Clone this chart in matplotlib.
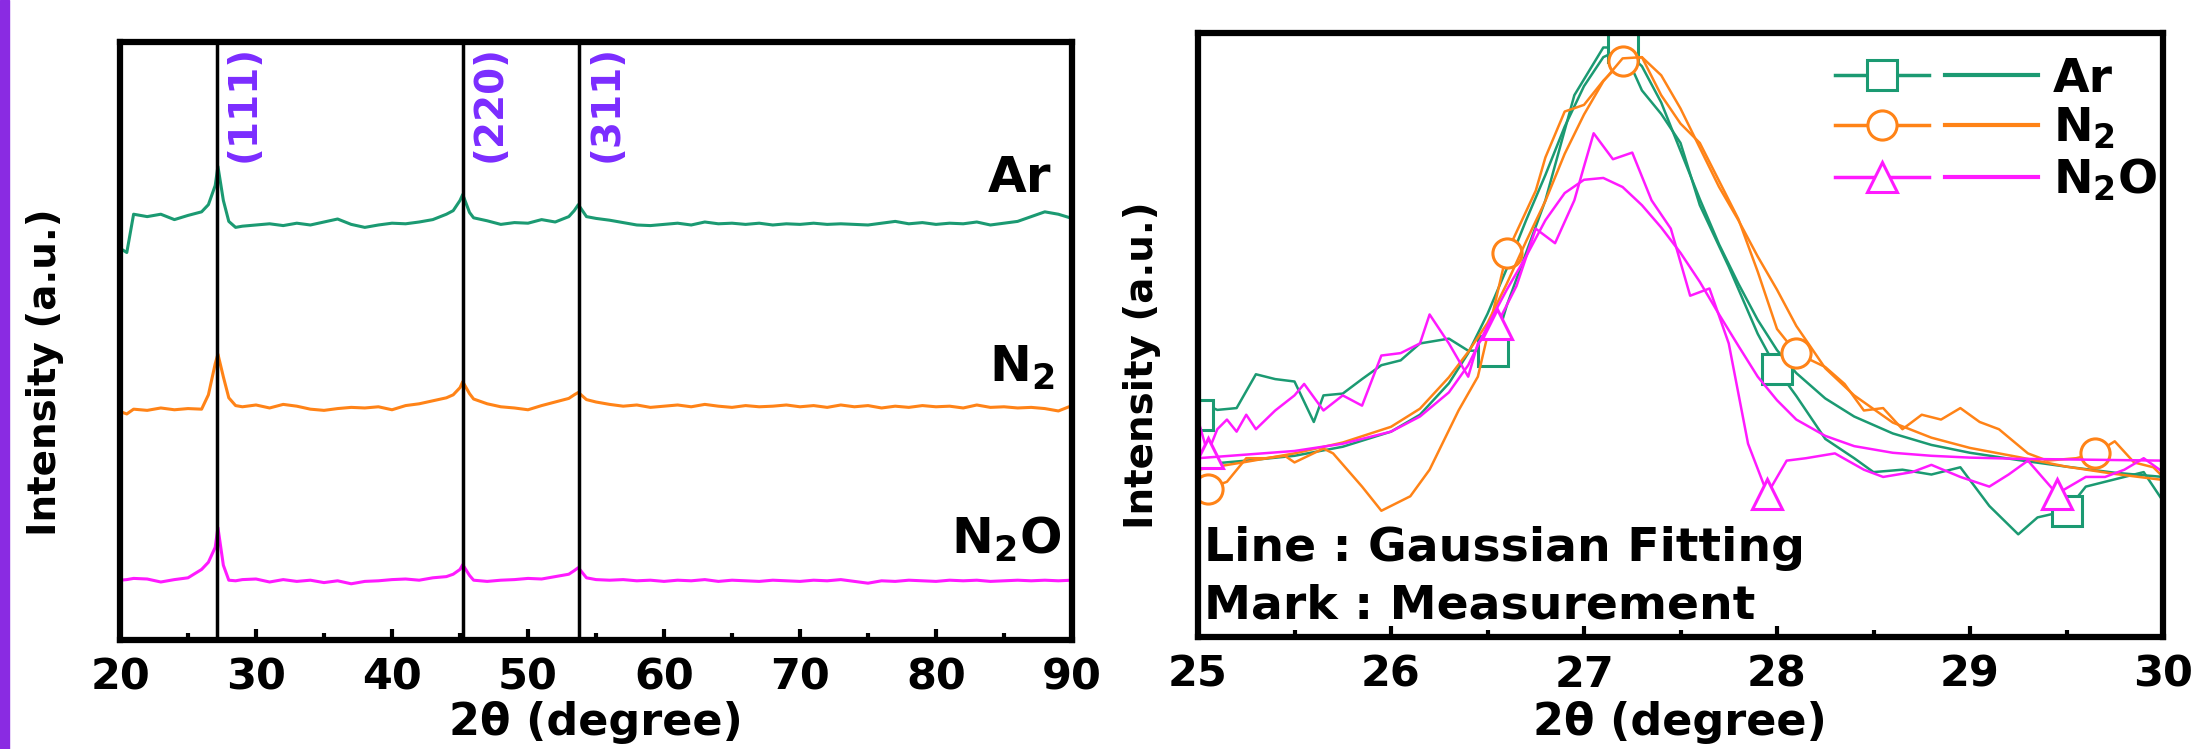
import numpy as np
import matplotlib
matplotlib.use('Agg')
from matplotlib import pyplot as plt
from matplotlib.lines import Line2D
from matplotlib.legend_handler import HandlerTuple
from matplotlib.patches import Rectangle

# ---- left panel: wide XRD scans (normalised, offset) ----
two_theta = [20, 20.5, 21, 22, 23, 24, 25, 26, 26.5, 27, 27.2, 27.6, 28, 28.5, 29,
             30, 31, 32, 33, 34, 35, 36, 37, 38, 39, 40, 41, 42, 43, 44,
             44.5, 45, 45.2, 45.7, 46, 47, 48, 49, 50, 51, 52, 53, 53.4, 53.7, 54.3,
             55, 56, 57, 58, 59, 60, 61, 62, 63, 64, 65, 66, 67, 68, 69, 70, 71, 72,
             73, 74, 75, 76, 77, 78, 79, 80, 81, 82, 83, 84, 85, 86, 87, 88, 89, 90]
ar_wide = [0.655, 0.648, 0.712, 0.708, 0.712, 0.703, 0.710, 0.716, 0.728, 0.760,
           0.792, 0.735, 0.700, 0.690, 0.692, 0.694, 0.696, 0.693, 0.697, 0.694,
           0.699, 0.704, 0.695, 0.690, 0.694, 0.697, 0.696, 0.699, 0.703, 0.712,
           0.718, 0.735, 0.745, 0.715, 0.706, 0.701, 0.695, 0.698, 0.697, 0.703,
           0.699, 0.708, 0.718, 0.728, 0.708, 0.705, 0.702, 0.698, 0.694, 0.693,
           0.695, 0.697, 0.694, 0.699, 0.696, 0.697, 0.695, 0.697, 0.694, 0.696,
           0.695, 0.697, 0.695, 0.696, 0.695, 0.694, 0.697, 0.700, 0.696, 0.698,
           0.695, 0.697, 0.696, 0.699, 0.694, 0.697, 0.700, 0.708, 0.716, 0.712, 0.705]
n2_wide = [0.382, 0.378, 0.386, 0.384, 0.388, 0.385, 0.387, 0.386, 0.410, 0.462,
           0.478, 0.440, 0.405, 0.392, 0.390, 0.393, 0.388, 0.394, 0.391, 0.386,
           0.384, 0.387, 0.389, 0.388, 0.390, 0.385, 0.392, 0.395, 0.400, 0.405,
           0.410, 0.422, 0.432, 0.412, 0.403, 0.395, 0.390, 0.388, 0.385, 0.392,
           0.398, 0.404, 0.410, 0.414, 0.402, 0.398, 0.394, 0.391, 0.393, 0.389,
           0.391, 0.393, 0.390, 0.394, 0.391, 0.389, 0.392, 0.390, 0.391, 0.393,
           0.390, 0.392, 0.389, 0.393, 0.390, 0.392, 0.388, 0.391, 0.389, 0.392,
           0.390, 0.391, 0.388, 0.393, 0.389, 0.390, 0.388, 0.389, 0.387, 0.383, 0.392]
n2o_wide = [0.100, 0.101, 0.103, 0.102, 0.097, 0.101, 0.104, 0.118, 0.130, 0.155,
            0.188, 0.125, 0.100, 0.099, 0.101, 0.102, 0.097, 0.101, 0.098, 0.100,
            0.096, 0.099, 0.094, 0.098, 0.099, 0.101, 0.102, 0.100, 0.104, 0.106,
            0.110, 0.118, 0.126, 0.108, 0.100, 0.098, 0.100, 0.101, 0.103, 0.102,
            0.106, 0.110, 0.116, 0.121, 0.104, 0.101, 0.100, 0.101, 0.099, 0.100,
            0.098, 0.100, 0.099, 0.101, 0.098, 0.100, 0.099, 0.098, 0.100, 0.099,
            0.098, 0.100, 0.099, 0.101, 0.098, 0.095, 0.099, 0.098, 0.100, 0.099,
            0.098, 0.100, 0.099, 0.100, 0.098, 0.099, 0.100, 0.099, 0.100, 0.099, 0.100]
peak_pos = [27.1, 45.2, 53.75]
peak_names = ['(111)', '(220)', '(311)']

# ---- right panel: (111) peak, measurement + gaussian fit ----
ar_meas_x = [25.0, 25.05, 25.1, 25.2, 25.3, 25.4, 25.5, 25.6, 25.65, 25.75,
             25.85, 25.95, 26.05, 26.15, 26.3, 26.4, 26.53, 26.6, 26.8, 26.95,
             27.1, 27.2, 27.3, 27.4, 27.5, 27.6, 27.75, 27.9, 28.0, 28.1,
             28.25, 28.4, 28.5, 28.65, 28.8, 28.95, 29.1, 29.25, 29.35, 29.5,
             29.6, 29.7, 29.8, 29.9, 30.0]
ar_meas_y = [0.368, 0.383, 0.376, 0.379, 0.435, 0.427, 0.423, 0.356, 0.400, 0.403,
             0.427, 0.450, 0.458, 0.486, 0.494, 0.474, 0.474, 0.549, 0.723, 0.897,
             0.976, 0.976, 0.905, 0.866, 0.818, 0.715, 0.613, 0.502, 0.443, 0.399,
             0.328, 0.296, 0.273, 0.277, 0.269, 0.281, 0.217, 0.170, 0.198, 0.209,
             0.249, 0.257, 0.265, 0.273, 0.225]
n2_meas_x = [25.0, 25.05, 25.15, 25.25, 25.35, 25.45, 25.5, 25.65, 25.7, 25.85,
             25.95, 26.1, 26.2, 26.35, 26.45, 26.6, 26.75, 26.8, 26.9, 27.0,
             27.1, 27.2, 27.3, 27.4, 27.5, 27.6, 27.7, 27.8, 27.9, 28.0,
             28.1, 28.25, 28.35, 28.45, 28.55, 28.65, 28.75, 28.85, 28.95, 29.05,
             29.15, 29.3, 29.4, 29.55, 29.65, 29.75, 29.85, 29.95, 30.0]
n2_meas_y = [0.257, 0.245, 0.257, 0.296, 0.296, 0.300, 0.289, 0.312, 0.304, 0.249,
             0.209, 0.233, 0.277, 0.375, 0.431, 0.636, 0.739, 0.794, 0.870, 0.881,
             0.921, 0.953, 0.960, 0.897, 0.850, 0.818, 0.755, 0.692, 0.605, 0.510,
             0.470, 0.447, 0.419, 0.375, 0.379, 0.344, 0.368, 0.360, 0.379, 0.356,
             0.344, 0.304, 0.292, 0.296, 0.304, 0.324, 0.289, 0.281, 0.265]
n2o_meas_x = [25.0, 25.05, 25.1, 25.15, 25.2, 25.25, 25.3, 25.4, 25.5, 25.55,
              25.65, 25.75, 25.85, 25.95, 26.05, 26.15, 26.2, 26.3, 26.4, 26.45,
              26.55, 26.65, 26.75, 26.85, 26.95, 27.0, 27.05, 27.15, 27.25, 27.35,
              27.45, 27.55, 27.65, 27.75, 27.85, 27.95, 28.05, 28.15, 28.3, 28.45,
              28.55, 28.7, 28.8, 28.95, 29.1, 29.2, 29.3, 29.45, 29.6, 29.7,
              29.8, 29.9, 30.0]
n2o_meas_y = [0.360, 0.304, 0.344, 0.360, 0.340, 0.368, 0.344, 0.375, 0.400, 0.419,
              0.375, 0.400, 0.383, 0.466, 0.470, 0.486, 0.534, 0.486, 0.431, 0.486,
              0.518, 0.581, 0.676, 0.652, 0.723, 0.779, 0.834, 0.791, 0.802, 0.723,
              0.676, 0.565, 0.577, 0.486, 0.320, 0.237, 0.292, 0.296, 0.304, 0.277,
              0.265, 0.273, 0.285, 0.265, 0.249, 0.269, 0.292, 0.237, 0.265, 0.265,
              0.277, 0.296, 0.273]
ar_marks = [25.0, 26.53, 27.2, 28.0, 29.5]
n2_marks = [25.05, 26.6, 27.2, 28.1, 29.65]
n2o_marks = [25.05, 26.55, 27.95, 29.45]

fit_x = [25.0, 25.25, 25.5, 25.75, 26.0, 26.15, 26.3, 26.4, 26.5, 26.6, 26.7, 26.8,
         26.9, 27.0, 27.1, 27.2, 27.3, 27.4, 27.5, 27.6, 27.7, 27.8, 27.9, 28.0,
         28.1, 28.25, 28.4, 28.6, 28.8, 29.0, 29.25, 29.5, 29.75, 30.0]
ar_fit = [0.285, 0.292, 0.300, 0.315, 0.340, 0.368, 0.420, 0.470, 0.535, 0.610, 0.690,
          0.765, 0.845, 0.912, 0.960, 0.975, 0.945, 0.885, 0.805, 0.725, 0.650, 0.585,
          0.525, 0.475, 0.437, 0.395, 0.365, 0.337, 0.318, 0.305, 0.293, 0.282, 0.272, 0.265]
n2_fit = [0.277, 0.290, 0.304, 0.322, 0.348, 0.378, 0.430, 0.472, 0.520, 0.585, 0.655,
          0.722, 0.800, 0.865, 0.920, 0.958, 0.960, 0.930, 0.875, 0.810, 0.745, 0.690,
          0.630, 0.575, 0.515, 0.445, 0.400, 0.355, 0.330, 0.313, 0.298, 0.282, 0.270, 0.260]
n2o_fit = [0.296, 0.302, 0.308, 0.320, 0.340, 0.365, 0.405, 0.450, 0.515, 0.575, 0.630,
           0.690, 0.735, 0.757, 0.760, 0.745, 0.715, 0.678, 0.636, 0.588, 0.534, 0.482,
           0.431, 0.392, 0.360, 0.333, 0.316, 0.305, 0.300, 0.297, 0.295, 0.294, 0.293, 0.292]

GREEN = '#1b9a72'
ORANGE = '#ff8317'
MAGENTA = '#ff1aff'
PURPLE = '#7b2cff'

plt.rcParams['font.family'] = 'DejaVu Sans'
plt.rcParams['font.weight'] = 'bold'
plt.rcParams['axes.labelweight'] = 'bold'
plt.rcParams['mathtext.default'] = 'bf'

W, H = 2191, 749
fig = plt.figure(figsize=(W / 100, H / 100), dpi=100)
fig.patches.append(Rectangle((0, 0), 9 / W, 1, transform=fig.transFigure,
                             color='#8a2be2', zorder=0))

ax1 = fig.add_axes([120 / W, 1 - 640 / H, 952 / W, 598 / H])
ax2 = fig.add_axes([1198 / W, 1 - 637 / H, 965 / W, 604 / H])


def style_axes(ax, major, minor):
    for sp in ax.spines.values():
        sp.set_linewidth(4.5)
    ax.set_yticks([])
    ax.set_xticks(major)
    ax.set_xticks(minor, minor=True)
    ax.tick_params(axis='x', which='major', direction='in', length=8, width=3,
                   labelsize=31, pad=12)
    ax.tick_params(axis='x', which='minor', direction='in', length=5, width=3)
    ax.set_ylim(0, 1)


# left
ax1.plot(two_theta, ar_wide, color=GREEN, lw=2.2)
ax1.plot(two_theta, n2_wide, color=ORANGE, lw=2.2)
ax1.plot(two_theta, n2o_wide, color=MAGENTA, lw=2.2)
for pos, name in zip(peak_pos, peak_names):
    ax1.axvline(pos, color='black', lw=2.5)
    ax1.text(pos + 0.6, 0.995, name, rotation=90, ha='left', va='top',
             color=PURPLE, fontsize=28, fontweight='bold')
ax1.text(88.5, 0.749, 'Ar', ha='right', va='baseline', fontsize=36)
ax1.text(88.7, 0.431, 'N$_2$', ha='right', va='baseline', fontsize=36)
ax1.text(89.2, 0.144, 'N$_2$O', ha='right', va='baseline', fontsize=36)
ax1.set_xlim(20, 90)
style_axes(ax1, np.arange(20, 91, 10), np.arange(25, 90, 10))

# right
series = [(ar_meas_x, ar_meas_y, ar_marks, ar_fit, GREEN, 's', 'Ar'),
          (n2_meas_x, n2_meas_y, n2_marks, n2_fit, ORANGE, 'o', 'N$_2$'),
          (n2o_meas_x, n2o_meas_y, n2o_marks, n2o_fit, MAGENTA, '^', 'N$_2$O')]
handles, labels = [], []
for mx, my, marks, fit, col, mk, lab in series:
    idx = [int(np.argmin(np.abs(np.array(mx) - m))) for m in marks]
    ax2.plot(mx, my, color=col, lw=1.8, marker=mk, markevery=idx, ms=21,
             mfc='white', mec=col, mew=2.2)
    ax2.plot(fit_x, fit, color=col, lw=1.8)
    h_meas = Line2D([], [], color=col, lw=2.5, marker=mk, ms=21, mfc='white',
                    mec=col, mew=2.2)
    h_fit = Line2D([], [], color=col, lw=3)
    handles.append((h_meas, h_fit))
    labels.append(lab)

ax2.legend(handles, labels, handler_map={tuple: HandlerTuple(ndivide=None, pad=0.35)},
           loc='upper right', bbox_to_anchor=(1.013, 0.992), frameon=False,
           fontsize=34, handlelength=4.3, handletextpad=0.3, labelspacing=0.1,
           borderaxespad=0.0)
ax2.text(25.03, 0.126, 'Line : Gaussian Fitting', fontsize=34, va='baseline')
ax2.text(25.03, 0.030, 'Mark : Measurement', fontsize=34, va='baseline')
ax2.set_xlim(25, 30)
style_axes(ax2, np.arange(25, 30.01, 1), np.arange(25.5, 30, 1))

fig.text(45 / W, 1 - 372 / H, 'Intensity (a.u.)', rotation=90, ha='center',
         va='center', fontsize=28)
fig.text(1142 / W, 1 - 365 / H, 'Intensity (a.u.)', rotation=90, ha='center',
         va='center', fontsize=28)
fig.text(596 / W, 1 - 722 / H, '2\u03b8 (degree)', ha='center', va='center', fontsize=32)
fig.text(1680 / W, 1 - 722 / H, '2\u03b8 (degree)', ha='center', va='center', fontsize=32)

fig.savefig('out.png', dpi=100)
